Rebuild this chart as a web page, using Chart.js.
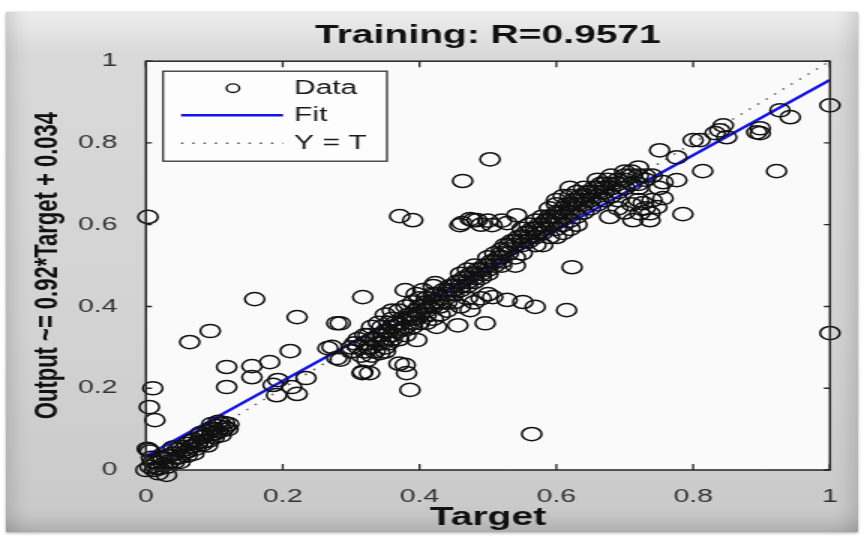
<!DOCTYPE html>
<html>
<head>
<meta charset="utf-8">
<title>Training: R=0.9571</title>
<script src="https://cdn.jsdelivr.net/npm/chart.js@4.4.0/dist/chart.umd.min.js"></script>
<style>
  html, body { margin: 0; padding: 0; background: #fff; width: 864px; height: 538px; overflow: hidden; }
  #frame {
    position: absolute; left: 6px; top: 12px; width: 852px; height: 520px;
    background: linear-gradient(to bottom, #eeeeee 0px, #d9d9d9 42px, #d3d3d3 60%, #c9c9c9 100%);
    box-shadow: inset 22px 0 18px -14px rgba(0,0,0,0.13), inset -22px 0 18px -14px rgba(0,0,0,0.13),
                inset 0 -22px 18px -14px rgba(0,0,0,0.16), 0 1px 3px rgba(0,0,0,0.35);
  }
  /* the reference is stretched sideways, so draw narrow and widen */
  #stage { position: absolute; left: 0; top: 0; width: 576px; height: 538px; transform: scaleX(1.5); transform-origin: 0 0; }
</style>
</head>
<body>
<div id="frame"></div>
<div id="stage"><canvas id="chart" width="576" height="538"></canvas></div>
<script>
// tick values shared by both axes
const tickVals = [0, 0.2, 0.4, 0.6, 0.8, 1];

// [target, output], grouped by region
const nearZero = [
  [0.003,0.619],[0.005,0.154],[0.010,0.200],[0.013,0.122],[0.004,0.049],[0.002,0.052],[0.006,0.045],
  [0.0,0.0],[0.006,0.008],[0.012,0.0],[0.016,0.018],[0.02,0.004],[0.022,0.028],[0.026,0.014],
  [0.03,0.034],[0.031,0.008],[0.036,0.022],[0.04,0.04],[0.042,0.02],[0.046,0.05],[0.05,0.032],
  [0.052,0.056],[0.056,0.042],[0.06,0.064],[0.061,0.046],[0.066,0.058],[0.07,0.074],[0.072,0.052],
  [0.076,0.068],[0.08,0.08],[0.082,0.062],[0.086,0.084],[0.09,0.094],[0.092,0.072],[0.096,0.088],
  [0.1,0.1],[0.102,0.09],[0.106,0.108],[0.11,0.112],[0.112,0.098],[0.116,0.104],[0.121,0.112],
  [0.096,0.112],[0.106,0.118],[0.018,-0.008],[0.03,-0.012],
  [0.01,0.02],[0.015,0.005],[0.025,0.03],[0.035,0.035],[0.045,0.03],[0.055,0.05],[0.065,0.07],
  [0.075,0.06],[0.085,0.07],[0.095,0.1],[0.105,0.095],[0.115,0.115],[0.12,0.1],[0.008,0.03],
  [0.04,0.055],[0.06,0.035],[0.08,0.09],[0.1,0.08],[0.05,0.02],[0.07,0.04],[0.09,0.06],[0.11,0.085]
];
const lowerMid = [
  [0.064,0.313],[0.094,0.340],[0.159,0.418],[0.221,0.374],[0.118,0.252],[0.155,0.254],[0.181,0.264],
  [0.211,0.291],[0.155,0.227],[0.118,0.203],[0.193,0.220],[0.186,0.208],[0.213,0.203],[0.191,0.183],
  [0.221,0.186],[0.234,0.225],[0.266,0.298],[0.284,0.359],[0.279,0.274],[0.316,0.237]
];
const band = [
  [0.317,0.423],[0.279,0.359],[0.272,0.301],[0.284,0.27],[0.317,0.24],[0.323,0.269],[0.32,0.29],
  [0.33,0.28],[0.33,0.30],[0.335,0.32],[0.34,0.33],[0.345,0.31],[0.35,0.34],[0.355,0.36],[0.345,0.35],
  [0.36,0.35],[0.36,0.37],[0.34,0.36],[0.325,0.33],[0.33,0.35],[0.35,0.29],[0.355,0.31],[0.36,0.33],
  [0.365,0.34],[0.37,0.355],[0.342,0.286],[0.327,0.237],[0.31,0.32],[0.3,0.30],[0.305,0.31],
  [0.32,0.31],[0.35,0.30],[0.37,0.32],[0.38,0.33],[0.375,0.345],[0.39,0.36],[0.38,0.37],[0.395,0.37],
  [0.40,0.36],[0.41,0.38],[0.37,0.39],[0.36,0.39],[0.35,0.38],[0.381,0.237],[0.379,0.257],
  [0.386,0.196],[0.396,0.318],[0.37,0.26]
];
const middle = [
  [0.39,0.38],[0.40,0.40],[0.40,0.42],[0.41,0.39],[0.41,0.41],[0.42,0.40],[0.42,0.43],[0.43,0.42],
  [0.43,0.40],[0.44,0.44],[0.44,0.41],[0.45,0.43],[0.45,0.45],[0.46,0.46],[0.46,0.44],[0.47,0.47],
  [0.47,0.45],[0.48,0.48],[0.48,0.46],[0.49,0.49],[0.49,0.47],[0.50,0.50],[0.50,0.48],[0.51,0.51],
  [0.52,0.52],[0.52,0.50],[0.4,0.38],[0.42,0.37],[0.43,0.38],[0.44,0.39],[0.39,0.41],[0.38,0.40],
  [0.395,0.43],[0.405,0.44],[0.42,0.45],[0.423,0.457],[0.379,0.44],[0.41,0.36],[0.39,0.35],
  [0.425,0.35],[0.456,0.354],[0.496,0.359],[0.474,0.391],[0.507,0.423],[0.528,0.416],[0.551,0.411],
  [0.569,0.399],[0.46,0.40],[0.48,0.41],[0.49,0.42],[0.50,0.43],[0.45,0.41],[0.47,0.42],
  [0.46,0.48],[0.47,0.49],[0.48,0.50]
];
const upperMid = [
  [0.50,0.52],[0.51,0.50],[0.52,0.54],[0.53,0.53],[0.53,0.55],[0.54,0.52],[0.54,0.56],[0.55,0.55],
  [0.55,0.57],[0.56,0.56],[0.56,0.58],[0.57,0.57],[0.57,0.59],[0.58,0.58],[0.58,0.60],[0.58,0.62],
  [0.59,0.60],[0.59,0.62],[0.6,0.59],[0.6,0.61],[0.6,0.63],[0.61,0.62],[0.61,0.64],[0.61,0.6],
  [0.62,0.61],[0.62,0.63],[0.62,0.65],[0.63,0.62],[0.63,0.64],[0.63,0.66],[0.64,0.63],[0.64,0.65],
  [0.64,0.67],[0.65,0.64],[0.65,0.66],[0.65,0.68],[0.66,0.65],[0.66,0.67],[0.67,0.66],[0.67,0.68],
  [0.68,0.67],[0.68,0.69],[0.69,0.68],[0.69,0.70],[0.70,0.69],[0.70,0.71],[0.71,0.70],[0.72,0.72],
  [0.73,0.71],[0.72,0.69],[0.74,0.72],[0.57,0.61],[0.56,0.6],[0.55,0.59],[0.59,0.64],[0.6,0.65],
  [0.62,0.67],[0.58,0.55],[0.59,0.57],[0.61,0.58],[0.63,0.6],[0.55,0.53],[0.52,0.51],[0.54,0.5],
  [0.57,0.55],[0.6,0.57],[0.62,0.59],
  [0.756,0.665],[0.747,0.643],[0.737,0.628],[0.722,0.628],[0.737,0.611],[0.712,0.611],[0.727,0.653],
  [0.785,0.626],[0.678,0.619],[0.69,0.64],[0.70,0.63],[0.71,0.65],[0.72,0.66],[0.73,0.64],
  [0.74,0.66],[0.75,0.69],[0.67,0.70],[0.68,0.72],[0.70,0.73],[0.71,0.72],[0.69,0.66],[0.66,0.69],
  [0.72,0.70],[0.73,0.72],[0.60,0.66],[0.61,0.67],[0.63,0.68],[0.64,0.69],[0.66,0.71],[0.62,0.69]
];
// the solid-looking core along the diagonal
const denseCore = [
  [0.30,0.29],[0.31,0.30],[0.315,0.28],[0.32,0.33],[0.325,0.30],[0.33,0.32],[0.335,0.29],[0.34,0.31],
  [0.345,0.33],[0.35,0.32],[0.355,0.34],[0.36,0.32],[0.365,0.36],[0.37,0.34],[0.375,0.37],[0.38,0.35],
  [0.385,0.38],[0.39,0.37],[0.395,0.39],[0.40,0.38],[0.405,0.40],[0.41,0.42],[0.415,0.40],[0.42,0.41],
  [0.425,0.43],[0.43,0.41],[0.435,0.44],[0.44,0.43],[0.445,0.45],[0.45,0.44],[0.455,0.46],[0.46,0.45],
  [0.465,0.47],[0.47,0.46],[0.475,0.48],[0.48,0.47],[0.485,0.49],[0.49,0.48],[0.495,0.50],[0.50,0.49],
  [0.505,0.51],[0.51,0.53],[0.515,0.52],[0.52,0.53],[0.525,0.55],[0.53,0.54],[0.535,0.56],[0.54,0.55],
  [0.545,0.57],[0.55,0.56],[0.555,0.58],[0.56,0.57],[0.565,0.59],[0.57,0.58],[0.575,0.60],[0.58,0.59],
  [0.585,0.61],[0.59,0.61],[0.595,0.62],[0.60,0.62],[0.605,0.63],[0.61,0.63],[0.615,0.65],[0.62,0.64],
  [0.625,0.66],[0.63,0.65],[0.635,0.67],[0.64,0.66],[0.645,0.68],[0.65,0.67],[0.655,0.69],[0.66,0.68],
  [0.665,0.70],[0.67,0.69],[0.675,0.71],[0.68,0.70],[0.69,0.71],[0.70,0.72],[0.71,0.73],[0.72,0.74]
];
const strays = [
  [0.503,0.760],[0.463,0.707],[0.371,0.621],[0.390,0.611],[0.459,0.599],[0.474,0.614],[0.484,0.611],
  [0.506,0.599],[0.528,0.604],[0.542,0.623],[0.462,0.604],[0.478,0.611],[0.49,0.60],[0.52,0.61],
  [0.50,0.61],[0.564,0.088],[0.623,0.496],[0.615,0.391],[1.0,0.335]
];
const upper = [
  [0.751,0.782],[0.776,0.765],[0.814,0.731],[0.776,0.709],[0.756,0.704],[0.800,0.807],[0.810,0.807],
  [0.844,0.843],[0.839,0.831],[0.832,0.824],[0.849,0.814],[0.898,0.836],[0.893,0.826],[0.898,0.824],
  [0.927,0.880],[0.942,0.863],[0.922,0.731],[1.0,0.892]
];

// fitted line end points and the Y = T line
const fitLine = [[0, 0.034], [1, 0.954]];
const identityLine = [[0, 0], [1, 1]];

const allPoints = [].concat(nearZero, lowerMid, band, middle, upperMid, denseCore, strays, upper);
const toXY = arr => arr.map(p => ({ x: p[0], y: p[1] }));

const boxPlugin = {
  id: 'boxPlugin',
  beforeDraw(chart) {
    const { ctx, chartArea: a } = chart;
    ctx.save();
    ctx.fillStyle = '#fafafa';
    ctx.fillRect(a.left, a.top, a.right - a.left, a.bottom - a.top);
    ctx.restore();
  },
  afterDatasetsDraw(chart) {
    const { ctx, chartArea: a, scales } = chart;
    ctx.save();
    // axes box
    ctx.strokeStyle = '#262626';
    ctx.lineWidth = 1.5;
    ctx.strokeRect(a.left, a.top, a.right - a.left, a.bottom - a.top);
    // inward ticks on all four sides
    ctx.lineWidth = 1.3;
    ctx.beginPath();
    tickVals.forEach(v => {
      const x = scales.x.getPixelForValue(v);
      ctx.moveTo(x, a.bottom); ctx.lineTo(x, a.bottom - 6);
      ctx.moveTo(x, a.top); ctx.lineTo(x, a.top + 6);
      const y = scales.y.getPixelForValue(v);
      ctx.moveTo(a.left, y); ctx.lineTo(a.left + 4, y);
      ctx.moveTo(a.right, y); ctx.lineTo(a.right - 4, y);
    });
    ctx.stroke();

    // legend box in the top-left corner
    const lx = a.left + 11.4, ly = a.top + 10;
    ctx.fillStyle = '#fdfdfd';
    ctx.fillRect(lx, ly, 149.3, 90);
    ctx.strokeStyle = '#333';
    ctx.lineWidth = 1.3;
    ctx.strokeRect(lx, ly, 149.3, 90);

    const rows = [a.top + 27, a.top + 54, a.top + 82];
    const textX = a.left + 98.7;
    ctx.beginPath();
    ctx.lineWidth = 1.4;
    ctx.strokeStyle = '#111';
    ctx.arc(a.left + 58, rows[0], 4.3, 0, Math.PI * 2);
    ctx.stroke();

    ctx.beginPath();
    ctx.strokeStyle = '#1414ee';
    ctx.lineWidth = 2.6;
    ctx.moveTo(a.left + 23.4, rows[1]); ctx.lineTo(a.left + 91.4, rows[1]);
    ctx.stroke();

    ctx.beginPath();
    ctx.strokeStyle = '#555';
    ctx.lineWidth = 1.4;
    ctx.setLineDash([1.5, 6]);
    ctx.moveTo(a.left + 23.4, rows[2]); ctx.lineTo(a.left + 91.4, rows[2]);
    ctx.stroke();
    ctx.setLineDash([]);

    ctx.fillStyle = '#1a1a1a';
    ctx.font = '20px "Liberation Sans", Arial, sans-serif';
    ctx.textBaseline = 'middle';
    ctx.fillText('Data', textX, rows[0]);
    ctx.fillText('Fit', textX, rows[1]);
    ctx.fillText('Y = T', textX, rows[2]);
    ctx.restore();
  }
};

const tickText = v => String(Math.round(v * 10) / 10);

const ctx = document.getElementById('chart').getContext('2d');
new Chart(ctx, {
  type: 'scatter',
  data: {
    datasets: [
      {
        label: 'Data',
        data: toXY(allPoints),
        pointStyle: 'circle',
        pointRadius: 6.6,
        borderColor: '#111',
        backgroundColor: 'rgba(0,0,0,0)',
        borderWidth: 1.5,
        clip: false
      },
      {
        label: 'Fit',
        data: toXY(fitLine),
        showLine: true,
        pointRadius: 0,
        borderColor: '#1414ee',
        borderWidth: 2.6
      },
      {
        label: 'Y = T',
        data: toXY(identityLine),
        showLine: true,
        pointRadius: 0,
        borderColor: '#555',
        borderWidth: 1.4,
        borderDash: [1.5, 6]
      }
    ]
  },
  options: {
    responsive: false,
    animation: false,
    devicePixelRatio: 1,
    layout: { padding: { left: 0, right: 22.7, top: 0, bottom: 0 } },
    plugins: {
      legend: { display: false },
      tooltip: { enabled: false },
      title: {
        display: true,
        text: 'Training: R=0.9571',
        fullSize: false,
        color: '#111',
        font: { family: '"Liberation Sans", Arial, sans-serif', size: 26, weight: 'bold' },
        padding: { top: 20, bottom: 10 }
      }
    },
    scales: {
      x: {
        type: 'linear',
        min: 0, max: 1,
        afterBuildTicks: s => { s.ticks = tickVals.map(v => ({ value: v })); },
        afterFit: s => { s.height = 68; },
        grid: { display: false },
        border: { display: false },
        ticks: {
          padding: 7,
          color: '#333',
          maxRotation: 0,
          callback: tickText,
          font: { family: '"Liberation Sans", Arial, sans-serif', size: 19 }
        },
        title: {
          display: true,
          text: 'Target',
          color: '#111',
          font: { family: '"Liberation Sans", Arial, sans-serif', size: 26, weight: 'bold' },
          padding: { top: 0, bottom: 5 }
        }
      },
      y: {
        type: 'linear',
        min: 0, max: 1,
        afterBuildTicks: s => { s.ticks = tickVals.map(v => ({ value: v })); },
        afterFit: s => { s.width = 97.3; },
        grid: { display: false },
        border: { display: false },
        ticks: {
          padding: 11,
          color: '#333',
          callback: tickText,
          font: { family: '"Liberation Sans", Arial, sans-serif', size: 19 }
        },
        title: {
          display: true,
          text: 'Output ~= 0.92*Target + 0.034',
          color: '#111',
          font: { family: '"Liberation Sans Narrow", "Liberation Sans", Arial, sans-serif', size: 22, weight: 'bold' },
          padding: { top: 19, bottom: 0 }
        }
      }
    }
  },
  plugins: [boxPlugin]
});
</script>
</body>
</html>
